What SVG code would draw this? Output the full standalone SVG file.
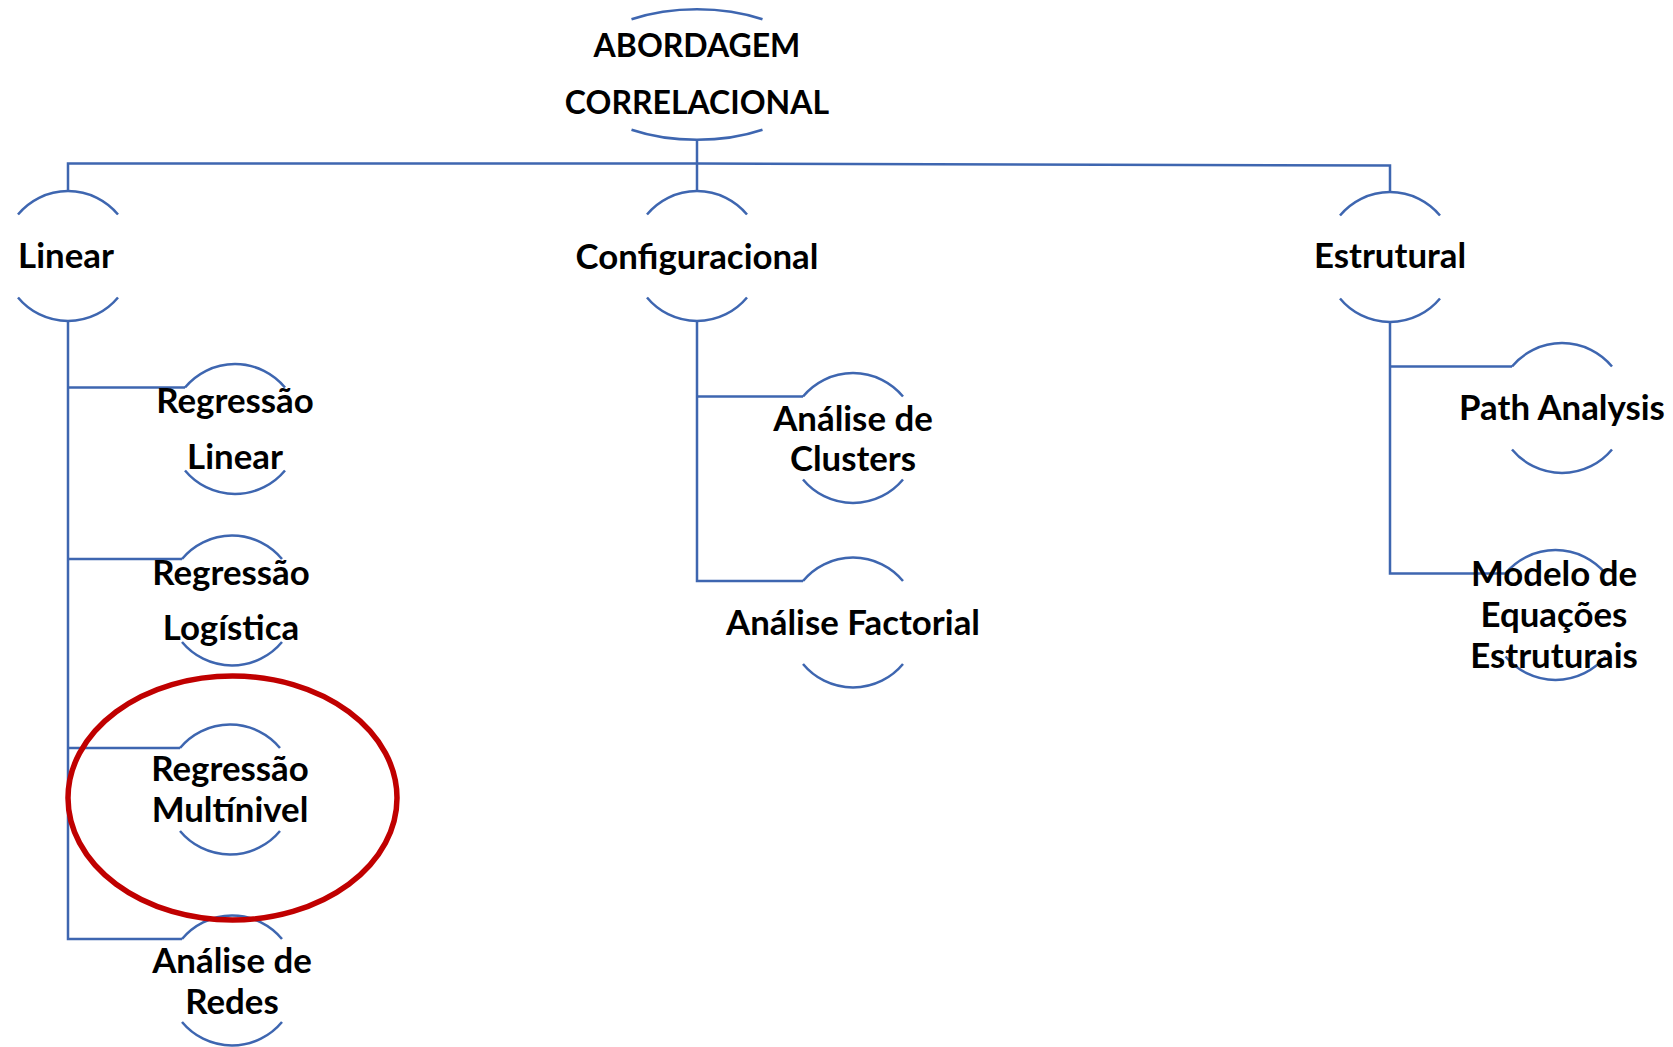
<svg xmlns="http://www.w3.org/2000/svg" xmlns:xlink="http://www.w3.org/1999/xlink" width="1673" height="1047" viewBox="0 0 1673 1047">
<style>
  .ln { fill: none; stroke: #3E66B0; stroke-width: 2.5; }
  .t { font-family: Lato, "Open Sans", "Liberation Sans", sans-serif; font-weight: bold; font-size: 34.8px; fill: #000; text-anchor: middle; }
  .cap { font-size: 32px; }
  .hl { fill: none; stroke: #C00000; stroke-width: 5.5; }
</style>
<defs>
  <path id="arcs" class="ln" d="M-50,-41.5 A65,65 0 0 1 50,-41.5 M-50,41.5 A65,65 0 0 0 50,41.5"/>
</defs>
<rect width="1673" height="1047" fill="#fff"/>

<g id="connectors" class="ln">
  <path d="M697,140 V163.5"/>
  <path d="M68,191 V163.5 H697"/>
  <path d="M697,163.5 L1390,165.5 V192"/>
  <path d="M697,163.5 V191"/>
  <path d="M68,321 V939 H182"/>
  <path d="M68,387.5 H185"/>
  <path d="M68,559 H182"/>
  <path d="M68,748 H180"/>
  <path d="M697,321 V581 H803"/>
  <path d="M697,396.5 H803"/>
  <path d="M1390,322 V573.5 H1505.5"/>
  <path d="M1390,366.5 H1512"/>
</g>

<g id="root">
  <path class="ln" d="M631.5,19.3 A123,65.5 0 0 1 762.5,19.3 M631.5,129.7 A123,65.5 0 0 0 762.5,129.7"/>
  <text class="t cap" x="697" y="57">ABORDAGEM</text>
  <text class="t cap" x="697" y="114">CORRELACIONAL</text>
</g>

<g id="linear">
  <use xlink:href="#arcs" transform="translate(68,256)"/>
  <text class="t" x="66" y="268">Linear</text>
</g>
<g id="configuracional">
  <use xlink:href="#arcs" transform="translate(697,256)"/>
  <text class="t" x="697" y="269">Configuracional</text>
</g>
<g id="estrutural">
  <use xlink:href="#arcs" transform="translate(1390,257)"/>
  <text class="t" x="1390" y="268">Estrutural</text>
</g>

<g id="regressao-linear">
  <use xlink:href="#arcs" transform="translate(235,429)"/>
  <text class="t" x="235" y="413">Regressão</text>
  <text class="t" x="235" y="469">Linear</text>
</g>
<g id="regressao-logistica">
  <use xlink:href="#arcs" transform="translate(232,600.5)"/>
  <text class="t" x="231" y="585">Regressão</text>
  <text class="t" x="231" y="640">Logística</text>
</g>
<g id="regressao-multinivel">
  <use xlink:href="#arcs" transform="translate(230,789.5)"/>
  <text class="t" x="230" y="781">Regressão</text>
  <text class="t" x="230" y="822">Multínivel</text>
</g>
<g id="analise-redes">
  <use xlink:href="#arcs" transform="translate(232,980.5)"/>
  <text class="t" x="232" y="973">Análise de</text>
  <text class="t" x="232" y="1014">Redes</text>
</g>

<g id="analise-clusters">
  <use xlink:href="#arcs" transform="translate(853,438)"/>
  <text class="t" x="853" y="431">Análise de</text>
  <text class="t" x="853" y="471">Clusters</text>
</g>
<g id="analise-factorial">
  <use xlink:href="#arcs" transform="translate(853,622.5)"/>
  <text class="t" x="853" y="635">Análise Factorial</text>
</g>

<g id="path-analysis">
  <use xlink:href="#arcs" transform="translate(1562,408)"/>
  <text class="t" x="1562" y="420">Path Analysis</text>
</g>
<g id="modelo-equacoes">
  <use xlink:href="#arcs" transform="translate(1555.5,615)"/>
  <text class="t" x="1554" y="586">Modelo de</text>
  <text class="t" x="1554" y="627">Equações</text>
  <text class="t" x="1554" y="668">Estruturais</text>
</g>

<g id="highlight">
  <ellipse class="hl" cx="232.5" cy="798" rx="164.5" ry="122"/>
</g>
</svg>
